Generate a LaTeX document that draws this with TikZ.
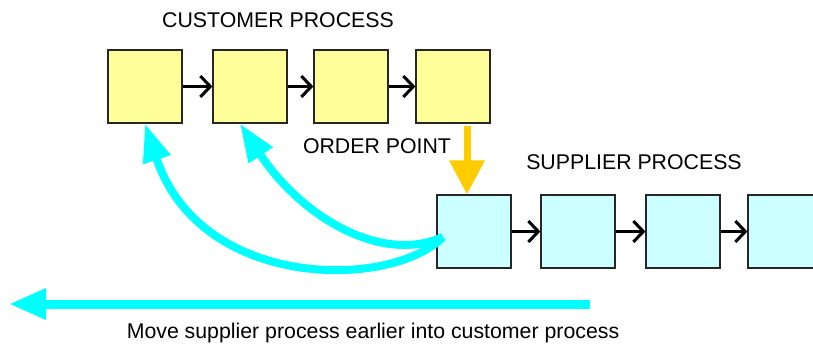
\documentclass[tikz,border=0pt]{standalone}
\usepackage{fontspec}
\setmainfont{Liberation Sans}
\usetikzlibrary{arrows.meta}
\definecolor{custfill}{HTML}{FFFF99}
\definecolor{suppfill}{HTML}{CCFFFF}
\definecolor{moveblue}{HTML}{00FFFF}
\definecolor{ordergold}{HTML}{FFCC00}
\tikzset{
  box/.style={draw=black!85, line width=1.2pt, minimum width=74pt, minimum height=73pt, inner sep=0pt},
  link/.style={line width=3pt, -{Straight Barb[length=10pt,width=21pt]}},
  move/.style={moveblue, line width=8pt, -{Triangle[length=38pt,width=27pt]}}
}
\begin{document}
\begin{tikzpicture}[x=1pt, y=-1pt, font=\fontsize{21.3}{25}\selectfont]
			\clip (0,0) rectangle (813,347);
			\foreach \n/\x in {1/145, 2/250, 3/351, 4/453}{
			\node[box, fill=custfill] (c\n) at (\x,86.5) {};
			}
			\foreach \n/\x in {1/474, 2/578, 3/683, 4/785}{
			\node[box, fill=suppfill] (s\n) at (\x,231.5) {};
			}
			\foreach \a/\b in {1/2, 2/3, 3/4}{
			\draw[link] (c\a.east)--(c\b.west);
			\draw[link] (s\a.east)--(s\b.west);
			}
			\node (cust) at (278,20) {CUSTOMER PROCESS};
			\node (supp) at (634,162) {SUPPLIER PROCESS};
			\node (op) at (377,146) {ORDER POINT};
			\node (note) at (373,333) {Move supplier process earlier into customer process};
			% order point
			\coordinate (opstart) at (467,126);
			\draw[ordergold, line width=7pt, -{Triangle[length=34pt,width=34pt]}] (opstart)--(s1.north-|opstart);
			% pull back into the customer process
			\coordinate (pull) at (443,237);
			\draw[move] (pull) .. controls (390,290) and (200,290) .. (c1.south);
			\draw[move] (pull) .. controls (380,265) and (300,215) .. ([xshift=-10pt]c2.south);
			\coordinate (mvR) at (590,304) coordinate (mvL) at (9,304);
			\draw[moveblue, line width=9pt, -{Triangle[length=37pt,width=29pt]}] (mvR)--(mvL);
		\end{tikzpicture}
\end{document}
